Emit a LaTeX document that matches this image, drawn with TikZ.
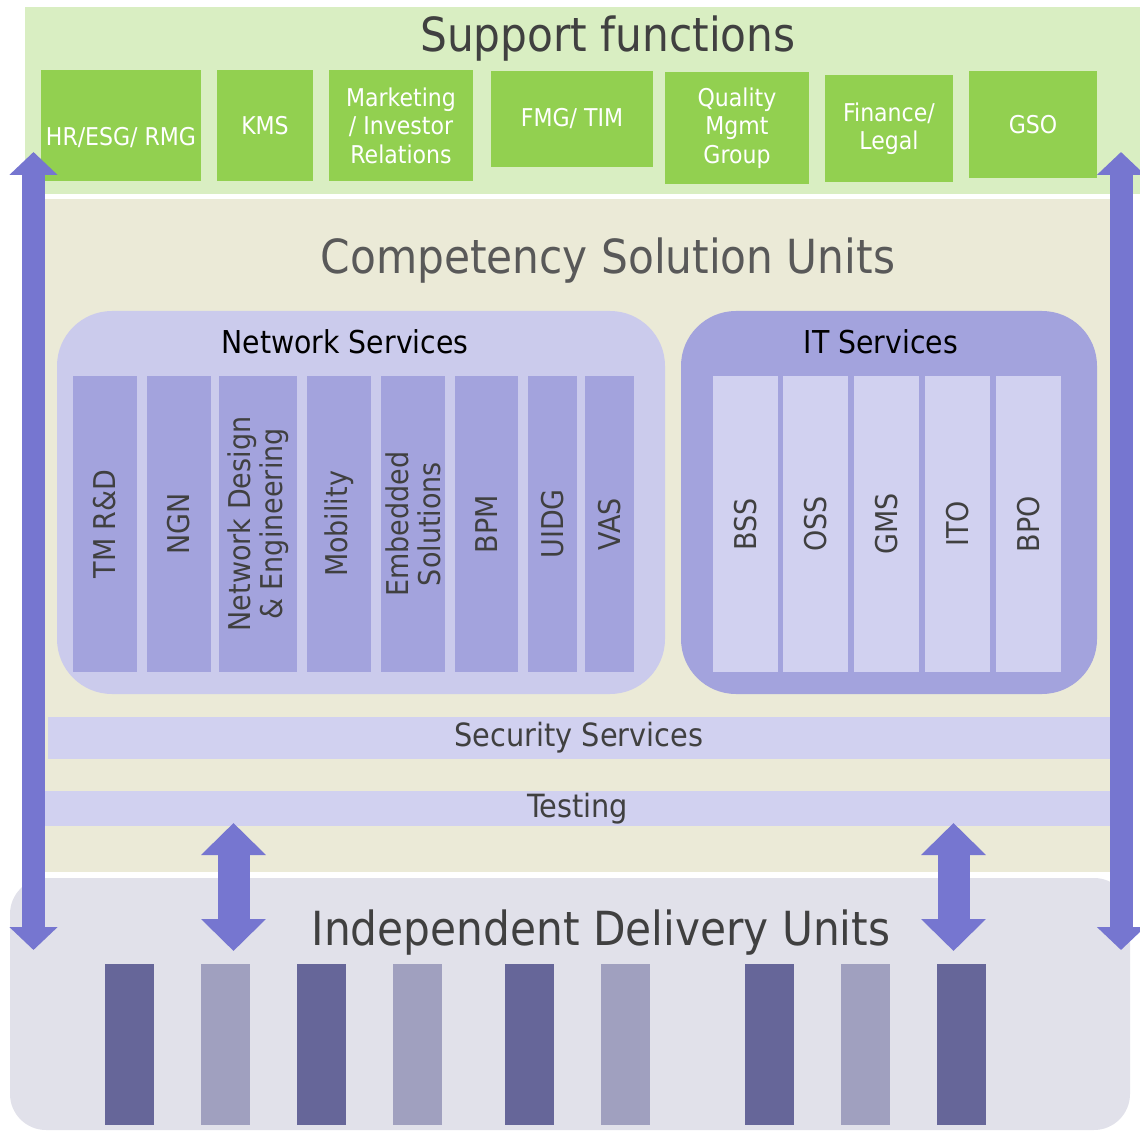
\documentclass[tikz,border=0pt]{standalone}
\usepackage{fontspec}
\setmainfont{DejaVu Sans Condensed}
\usetikzlibrary{arrows.meta, positioning}

\definecolor{supportbg}{HTML}{D9EEC2}
\definecolor{supportbox}{HTML}{92D050}
\definecolor{csubg}{HTML}{EBEAD7}
\definecolor{idubg}{HTML}{E1E1EA}
\definecolor{lavlight}{HTML}{CBCBEC}
\definecolor{lavmid}{HTML}{A3A3DD}
\definecolor{lavpale}{HTML}{D1D1F0}
\definecolor{arrowblue}{HTML}{7676D0}
\definecolor{bardark}{HTML}{666699}
\definecolor{barlight}{HTML}{A0A0BF}
\definecolor{titlegray}{HTML}{404040}
\definecolor{csugray}{HTML}{595959}

\tikzset{
    band/.style={
           rectangle,
           draw=none,
           inner sep=0pt,
           anchor=center,
           },
    bigtitle/.style={
           text=titlegray,
           inner sep=0pt,
           font=\fontsize{47}{52}\selectfont,
           },
    sfbox/.style={
           band,
           fill=supportbox,
           text=white,
           align=center,
           font=\fontsize{24.5}{28.5}\selectfont,
           },
    group/.style={
           band,
           rounded corners=55pt,
           minimum width=608pt,
           minimum height=383pt,
           },
    grouptitle/.style={
           inner sep=0pt,
           font=\fontsize{31.5}{34}\selectfont,
           },
    column/.style={
           band,
           rotate=90,
           minimum width=296pt,
           text=titlegray,
           align=center,
           font=\fontsize{30}{32}\selectfont,
           },
    strip/.style={
           band,
           fill=lavpale,
           text=titlegray,
           font=\fontsize{32}{34}\selectfont,
           },
    sidearrow/.style={
           draw=arrowblue,
           line width=23pt,
           {Triangle[length=23pt,width=47pt]}-{Triangle[length=23pt,width=47pt]},
           },
    midarrow/.style={
           draw=arrowblue,
           line width=32pt,
           {Triangle[length=32pt,width=63pt]}-{Triangle[length=32pt,width=63pt]},
           },
}

\begin{document}
\begin{tikzpicture}[x=1pt,y=-1pt]
 \useasboundingbox (0,0) rectangle (1140,1131);

 % support functions
 \node[band, fill=supportbg,
  minimum width=1115pt,
  minimum height=187pt] (SUPPORT) at (582.5,100.5) {};
 \node[bigtitle] (SUPPORT_TITLE) at (608,39) {Support functions};

 \node[sfbox, minimum width=160pt, minimum height=111pt] (HR) at (121,125.5) {};
 \node[sfbox, fill=none] (HR_TEXT) at (121,138) {HR/ESG/ RMG};
 \node[sfbox, minimum width=96pt, minimum height=111pt] (KMS) at (265,125.5) {KMS};
 \node[sfbox, minimum width=144pt, minimum height=111pt] (MKT) at (401,125.5)
 {%
  Marketing\\/ Investor\\Relations
 };
 \node[sfbox, minimum width=162pt, minimum height=96pt] (FMG) at (572,119) {FMG/ TIM};
 \node[sfbox, minimum width=144pt, minimum height=112pt] (QMG) at (737,128)
 {%
  Quality\\Mgmt\\Group
 };
 \node[sfbox, minimum width=128pt, minimum height=107pt] (FIN) at (889,128.5)
 {%
  Finance/\\Legal
 };
 \node[sfbox, minimum width=128pt, minimum height=107pt] (GSO) at (1033,124.5) {GSO};

 % competency solution units
 \node[band, fill=csubg,
  minimum width=1085pt,
  minimum height=673pt] (CSU) at (572.5,535.5) {};
 \node[bigtitle, text=csugray] (CSU_TITLE) at (608,261) {Competency Solution Units};

 \node[group, fill=lavlight] (NET) at (361,502.5) {};
 \node[grouptitle] (NET_TITLE) at (345,342) {Network Services};
 \foreach \cx/\w/\lbl [count=\i] in {
   105/64/{TM R\&D},
   179/64/{NGN},
   258/78/{Network Design\\\& Engineering},
   339/64/{Mobility},
   413/64/{Embedded\\Solutions},
   486.5/63/{BPM},
   552.5/49/{UIDG},
   609.5/49/{VAS}}
  \node[column, fill=lavmid, minimum height=\w pt] (NET_\i) at (\cx,524) {\lbl};

 \node[group, fill=lavmid, minimum width=416pt] (IT) at (889,502.5) {};
 \node[grouptitle] (IT_TITLE) at (881,342) {IT Services};
 \foreach \cx/\lbl [count=\i] in {
   745.5/BSS, 815.5/OSS, 886.5/GMS, 957.5/ITO, 1028.5/BPO}
  \node[column, fill=lavpale, minimum height=65pt] (IT_\i) at (\cx,524) {\lbl};

 \node[strip, minimum width=1062pt, minimum height=42pt] (SECURITY) at (579,738)
 {Security Services};
 \node[strip, minimum width=1065pt, minimum height=35pt] (TESTING) at (577.5,808.5)
 {Testing};

 % independent delivery units
 \node[band, fill=idubg,
  rounded corners=36pt,
  minimum width=1120pt,
  minimum height=252pt] (IDU) at (570,1004) {};
 \node[bigtitle] (IDU_TITLE) at (601,933) {Independent Delivery Units};
 \foreach \cx/\shade [count=\i] in {
   129.5/bardark, 225.5/barlight, 321.5/bardark, 417.5/barlight, 529.5/bardark,
   625.5/barlight, 769.5/bardark, 865.5/barlight, 961.5/bardark}
  \node[band, fill=\shade, minimum width=49pt, minimum height=161pt] (BAR_\i) at (\cx,1044.5) {};

 % arrows
 \coordinate (L_TOP) at (33.5,152);
 \coordinate (L_BOT) at (33.5,950);
 \coordinate (R_TOP) at (1121,152);
 \coordinate (R_BOT) at (1121,950);
 \coordinate (M1_TOP) at (233.5,823);
 \coordinate (M1_BOT) at (233.5,951);
 \coordinate (M2_TOP) at (953.5,823);
 \coordinate (M2_BOT) at (953.5,951);

 \path (L_TOP) edge[sidearrow] (L_BOT);
 \path (R_TOP) edge[sidearrow] (R_BOT);
 \path (M1_TOP) edge[midarrow] (M1_BOT);
 \path (M2_TOP) edge[midarrow] (M2_BOT);

\end{tikzpicture}
\end{document}
